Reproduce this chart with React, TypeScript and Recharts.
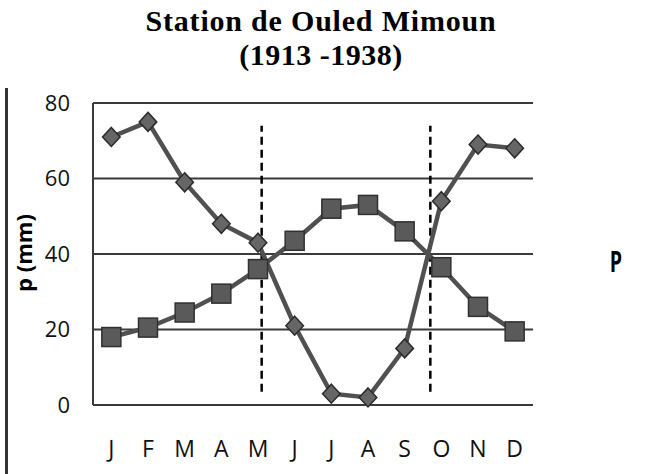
import React from 'react';
import { LineChart, Line, XAxis, YAxis, CartesianGrid, ReferenceLine } from 'recharts';

const months = ['J', 'F', 'M', 'A', 'M', 'J', 'J', 'A', 'S', 'O', 'N', 'D'];
const monthIndex = [1, 2, 3, 4, 5, 6, 7, 8, 9, 10, 11, 12];
const precipitation = [71, 75, 59, 48, 43, 21, 3, 2, 15, 54, 69, 68];
const temperature2 = [18, 20.5, 24.5, 29.5, 36, 43.5, 52, 53, 46, 36.5, 26, 19.5];
const yTicks = [0, 20, 40, 60, 80];
const dryStart = 5.1;
const dryEnd = 9.7;
const dashBottom = 3.5;
const dashTop = 74;

const data = monthIndex.map((m, i) => ({ m, P: precipitation[i], T: temperature2[i] }));

const Diamond = (props: any) => {
  const { cx, cy, index } = props;
  if (cx == null || cy == null) return <g key={`d${index}`} />;
  const r = 9.5;
  const w = 8.8;
  return (
    <path
      key={`d${index}`}
      d={`M${cx},${cy - r}L${cx + w},${cy}L${cx},${cy + r}L${cx - w},${cy}Z`}
      fill="#666"
      stroke="#2b2b2b"
      strokeWidth={1.5}
    />
  );
};

const Square = (props: any) => {
  const { cx, cy, index } = props;
  if (cx == null || cy == null) return <g key={`s${index}`} />;
  const h = 9.5;
  return (
    <rect
      key={`s${index}`}
      x={cx - h}
      y={cy - h}
      width={2 * h}
      height={2 * h}
      fill="#5a5a5a"
      stroke="#303030"
      strokeWidth={1.5}
    />
  );
};

export default function App() {
  return (
    <div style={{ position: 'relative', width: 670, height: 474, background: '#fff' }}>
      <style>{`body{margin:0;}`}</style>
      <LineChart
        width={670}
        height={474}
        data={data}
        margin={{ top: 103, right: 137, bottom: 9, left: 0 }}
      >
        <CartesianGrid horizontal vertical={false} stroke="#3a3a3a" strokeWidth={2} />
        <XAxis
          dataKey="m"
          type="number"
          domain={[0.5, 12.5]}
          ticks={monthIndex}
          tickFormatter={(v: number) => months[v - 1]}
          axisLine={false}
          tickLine={false}
          tickSize={0}
          tickMargin={36}
          height={60}
          interval={0}
          tick={{ fontSize: 23, fontFamily: 'Open Sans', fill: '#111' }}
        />
        <YAxis
          domain={[0, 80]}
          ticks={yTicks}
          width={93}
          axisLine={{ stroke: '#3a3a3a', strokeWidth: 2 }}
          tickLine={false}
          tickSize={0}
          tickMargin={23}
          interval={0}
          tick={{ fontSize: 22, fontFamily: 'Open Sans', fill: '#111' }}
        />
        <ReferenceLine
          segment={[{ x: dryStart, y: dashBottom }, { x: dryStart, y: dashTop }]}
          stroke="#000"
          strokeWidth={2.5}
          strokeDasharray="8 5"
        />
        <ReferenceLine
          segment={[{ x: dryEnd, y: dashBottom }, { x: dryEnd, y: dashTop }]}
          stroke="#000"
          strokeWidth={2.5}
          strokeDasharray="8 5"
        />
        <Line
          dataKey="T"
          stroke="#505050"
          strokeWidth={4.5}
          dot={Square}
          activeDot={false}
          isAnimationActive={false}
        />
        <Line
          dataKey="P"
          stroke="#505050"
          strokeWidth={4.5}
          dot={Diamond}
          activeDot={false}
          isAnimationActive={false}
        />
      </LineChart>
      <svg
        width={670}
        height={474}
        style={{ position: 'absolute', left: 0, top: 0, pointerEvents: 'none' }}
      >
        <line x1={6.5} y1={88} x2={6.5} y2={474} stroke="#333" strokeWidth={3} />
        <text x={321} y={31} textAnchor="middle" fontFamily="'Liberation Serif', 'Times New Roman', serif" fontWeight="bold" fontSize={30} letterSpacing={0.8} fill="#000">
          Station de Ouled Mimoun
        </text>
        <text x={321} y={65} textAnchor="middle" fontFamily="'Liberation Serif', 'Times New Roman', serif" fontWeight="bold" fontSize={30} letterSpacing={0.5} fill="#000">
          (1913 -1938)
        </text>
        <text transform="translate(32,253) rotate(-90)" textAnchor="middle" fontFamily="'Open Sans', sans-serif" fontWeight={700} fontSize={22} fill="#000">
          p (mm)
        </text>
        <text transform="translate(616,272) scale(0.7,1)" textAnchor="middle" fontFamily="'Open Sans', sans-serif" fontWeight={700} fontSize={28} fill="#000">
          P
        </text>
      </svg>
    </div>
  );
}
